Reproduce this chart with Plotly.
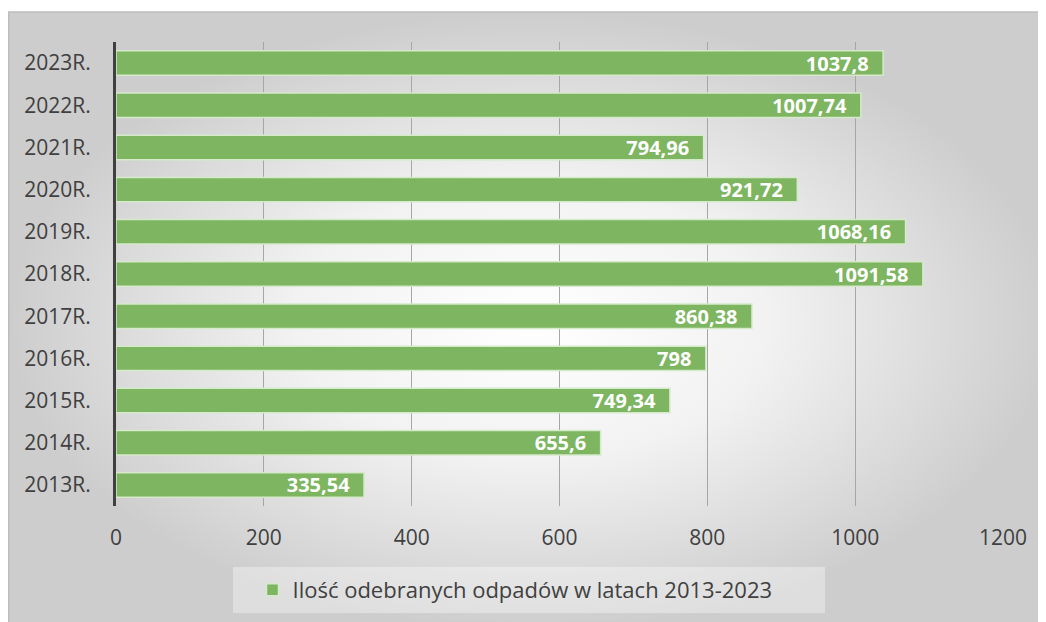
import plotly.graph_objects as go

years = ["2013R.", "2014R.", "2015R.", "2016R.", "2017R.", "2018R.",
         "2019R.", "2020R.", "2021R.", "2022R.", "2023R."]
waste = [335.54, 655.6, 749.34, 798, 860.38, 1091.58,
         1068.16, 921.72, 794.96, 1007.74, 1037.8]
series_name = "Ilość odebranych odpadów w latach 2013-2023"

# polish decimal comma, small padding before the bar end
labels = [f"{v:g}".replace(".", ",") + "\u2007" for v in waste]

W, H = 1046, 622
OFF = 8  # page body margin: figure is drawn 8px right/down
font = "'Open Sans', Lato, sans-serif"

fig = go.Figure()

# chart area background with radial gradient (hidden full-page axis)
fig.add_trace(go.Scatter(
    x=[0.75, W, W, 0.75, 0.75], y=[0, 0, H - 4, H - 4, 0],
    mode="lines", fill="toself",
    line=dict(color="#bdbdbd", width=1.5),
    fillgradient=dict(type="radial",
                      colorscale=[[0, "#ffffff"], [0.45, "#f2f2f2"], [1, "#cdcdcd"]]),
    xaxis="x", yaxis="y", hoverinfo="skip", showlegend=False,
))

fig.add_trace(go.Bar(
    y=years, x=waste, orientation="h", name=series_name,
    marker=dict(color="#7db560", line=dict(color="#d6e9cb", width=1.5)),
    text=labels, textposition="inside", insidetextanchor="end", textangle=0,
    constraintext="none", cliponaxis=False,
    textfont=dict(family=font, size=20, color="white", weight="bold"),
    xaxis="x2", yaxis="y2",
))

fig.update_layout(
    width=W, height=H,
    margin=dict(l=0, r=0, t=0, b=0),
    paper_bgcolor="white", plot_bgcolor="rgba(0,0,0,0)",
    font=dict(family=font, size=21, color="#404040"),
    bargap=0.42,
    xaxis=dict(domain=[0, 1], range=[0, W], visible=False, fixedrange=True),
    yaxis=dict(domain=[0, 1], range=[0, H], visible=False, fixedrange=True),
    xaxis2=dict(domain=[(116 - OFF) / W, (1003 - OFF) / W], anchor="y2",
                range=[0, 1200], dtick=200,
                showgrid=True, gridcolor="#a6a6a6", gridwidth=1, zeroline=False,
                showline=False, ticks="outside", ticklen=13,
                tickcolor="rgba(0,0,0,0)", automargin=False),
    yaxis2=dict(domain=[(H - 506 + OFF) / H, (H - 42 + OFF) / H], anchor="x2",
                type="category",
                showgrid=False, showline=True, linecolor="#404040", linewidth=3,
                ticks="outside", ticklen=18, tickcolor="rgba(0,0,0,0)",
                automargin=False),
    showlegend=True,
    legend=dict(orientation="h", x=(515 - OFF) / W, xanchor="center",
                y=(H - 590 + OFF) / H, yanchor="middle", bgcolor="rgba(0,0,0,0)",
                font=dict(size=22, color="#404040")),
    shapes=[dict(type="rect", xref="paper", yref="paper",
                 x0=(233 - OFF) / W, x1=(825 - OFF) / W,
                 y0=(H - 613 + OFF) / H, y1=(H - 567 + OFF) / H,
                 fillcolor="rgba(255,255,255,0.35)", line=dict(width=0),
                 layer="above")],
)

fig.write_html("out.html")
